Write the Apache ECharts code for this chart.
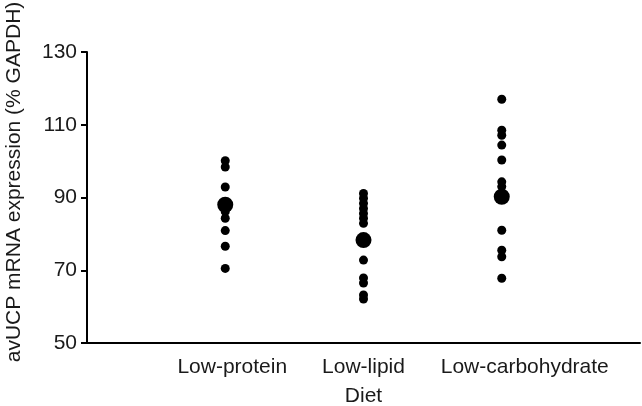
<!DOCTYPE html>
<html>
<head>
<meta charset="utf-8">
<script src="https://cdn.jsdelivr.net/npm/echarts@6/dist/echarts.min.js"></script>
<style>
html,body{margin:0;padding:0;background:#fff;}
#chart{width:642px;height:406px;}
</style>
</head>
<body>
<div id="chart"></div>
<script>
// Diet groups and their individual measurements (% GAPDH)
const categories = ['Low-protein', 'Low-lipid', 'Low-carbohydrate'];
const lowProtein = [100.1, 98.4, 92.9, 86.1, 84.3, 80.9, 76.6, 70.5];
const lowLipid = [91.1, 89.8, 88.4, 87.0, 85.6, 84.3, 82.9, 72.8, 67.9, 66.5, 63.2, 62.1];
const lowCarbohydrate = [117.0, 108.5, 107.1, 104.4, 100.3, 94.3, 93.0, 81.0, 75.5, 73.7, 67.8];
const means = [88.0, 78.3, 90.2];
const yTicks = [50, 70, 90, 110, 130];

const groups = [lowProtein, lowLipid, lowCarbohydrate];
const individual = [];
groups.forEach((g, i) => g.forEach(v => individual.push([i + 1, v])));
const meanPts = means.map((v, i) => [i + 1, v]);

// label layout nudges (style only)
const labelShift = ['a', 'b', 'c'];
const font = 'Liberation Sans, Arial, Helvetica, sans-serif';
const txt = { fontFamily: font, fontSize: 21, color: '#1a1a1a' };
const chart = echarts.init(document.getElementById('chart'));
chart.setOption({
  animation: false,
  backgroundColor: '#fff',
  grid: { left: 87, right: 2, top: 52, bottom: 63, outerBoundsMode: 'none', containLabel: false },
  xAxis: {
    type: 'value', min: 0, max: categories.length + 1, interval: 1,
    name: 'Diet', nameLocation: 'middle', nameGap: 43,
    nameTextStyle: txt,
    axisLine: { show: true, onZero: false, lineStyle: { color: '#000', width: 2 } },
    axisTick: { show: false },
    splitLine: { show: false },
    axisLabel: {
      margin: 14, ...txt,
      formatter: v => (v >= 1 && v <= categories.length) ? '{' + labelShift[v - 1] + '|' + categories[v - 1] + '}' : '',
      rich: {
        a: { ...txt, padding: [0, 0, 0, 14] },
        b: { ...txt, padding: [0, 0, 0, 0] },
        c: { ...txt, padding: [0, 0, 8, 46] }
      }
    }
  },
  yAxis: {
    type: 'value', min: yTicks[0], max: yTicks[yTicks.length - 1], interval: 20,
    axisLine: { show: true, lineStyle: { color: '#000', width: 2 } },
    axisTick: { show: true, length: 6, lineStyle: { color: '#000', width: 2 } },
    splitLine: { show: false },
    axisLabel: { margin: 10, ...txt }
  },
  graphic: [{
    type: 'text', x: 14, y: 182, rotation: Math.PI / 2,
    style: {
      text: 'avUCP mRNA expression (% GAPDH)',
      font: '21px ' + font, fill: '#1a1a1a',
      textAlign: 'center', textVerticalAlign: 'middle'
    }
  }],
  series: [
    { type: 'scatter', data: individual, symbolSize: 9, itemStyle: { color: '#000', opacity: 1 } },
    { type: 'scatter', data: meanPts, symbolSize: 16, itemStyle: { color: '#000', opacity: 1 } }
  ]
});
</script>
</body>
</html>
